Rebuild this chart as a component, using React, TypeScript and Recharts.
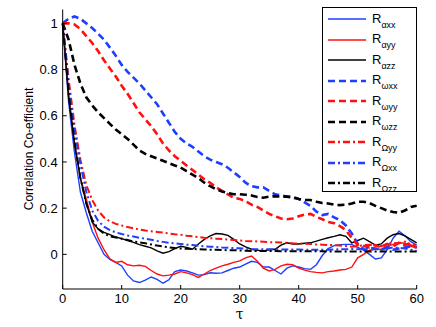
import React from "react";
import { LineChart, Line, XAxis, YAxis, Legend } from "recharts";

const tau = [
  0, 1, 2, 3, 4, 5, 6, 7, 8, 9, 10, 11, 12, 13, 14, 15, 16, 17, 18, 19, 20,
  21, 22, 23, 24, 25, 26, 27, 28, 29, 30, 31, 32, 33, 34, 35, 36, 37, 38, 39,
  40, 41, 42, 43, 44, 45, 46, 47, 48, 49, 50, 51, 52, 53, 54, 55, 56, 57, 58,
  59, 60,
];

// R_alpha (solid)
const alphaXX = [
  1, 0.66, 0.44, 0.27, 0.18, 0.1, 0.05, 0.0, -0.022, -0.035, -0.05, -0.09,
  -0.115, -0.122, -0.112, -0.098, -0.108, -0.125, -0.11, -0.075, -0.068,
  -0.072, -0.08, -0.09, -0.088, -0.08, -0.082, -0.08, -0.07, -0.06, -0.055,
  -0.042, -0.03, -0.035, -0.055, -0.055, -0.07, -0.085, -0.06, -0.05, -0.055,
  -0.062, -0.065, -0.045, -0.005, 0.025, 0.038, 0.042, 0.043, 0.043, 0.03,
  0.018, 0.0, -0.02, -0.015, 0.02, 0.07, 0.1, 0.08, 0.055, 0.04,
];
const alphaYY = [
  1, 0.7, 0.48, 0.33, 0.24, 0.14, 0.07, 0.02, -0.02, -0.035, -0.03, -0.045,
  -0.05, -0.047, -0.052, -0.07, -0.085, -0.093, -0.09, -0.085, -0.075, -0.08,
  -0.088, -0.1, -0.085, -0.07, -0.06, -0.05, -0.043, -0.035, -0.028, -0.015,
  -0.007, -0.03, -0.06, -0.072, -0.065, -0.05, -0.043, -0.045, -0.06, -0.068,
  -0.075, -0.078, -0.08, -0.075, -0.072, -0.068, -0.065, -0.055, -0.015, 0.0,
  0.018, 0.022, 0.022, 0.035, 0.043, 0.05, 0.048, 0.035, 0.028,
];
const alphaZZ = [
  1, 0.68, 0.48, 0.33, 0.22, 0.14, 0.11, 0.095, 0.085, 0.075, 0.068, 0.06,
  0.052, 0.042, 0.035, 0.028, 0.015, 0.005, 0.012, 0.025, 0.035, 0.03, 0.022,
  0.045, 0.065, 0.08, 0.09, 0.088, 0.082, 0.065, 0.045, 0.032, 0.022, 0.018,
  0.015, 0.02, 0.022, 0.04, 0.05, 0.045, 0.045, 0.048, 0.05, 0.057, 0.065,
  0.072, 0.078, 0.085, 0.078, 0.05, 0.06, 0.07, 0.055, 0.04, 0.045, 0.07,
  0.085, 0.09, 0.08, 0.065, 0.05,
];

// R_omega (dashed)
const omegaXX = [
  1.0, 1.02, 1.03, 1.02, 1.0, 0.98, 0.955, 0.93, 0.895, 0.86, 0.82, 0.79,
  0.765, 0.74, 0.71, 0.68, 0.65, 0.61, 0.57, 0.53, 0.5, 0.48, 0.465, 0.445,
  0.425, 0.41, 0.4, 0.39, 0.375, 0.355, 0.335, 0.31, 0.295, 0.29, 0.29, 0.275,
  0.26, 0.255, 0.25, 0.245, 0.24, 0.225, 0.21, 0.185, 0.17, 0.175, 0.16,
  0.148, 0.125, 0.09, 0.045, 0.022, 0.02, 0.025, 0.02, 0.03, 0.02, 0.025,
  0.03, 0.035, 0.03,
];
const omegaYY = [
  1.0, 1.0, 0.995, 0.975, 0.945, 0.915, 0.88, 0.84, 0.805, 0.77, 0.73, 0.695,
  0.655, 0.615, 0.585, 0.555, 0.52, 0.48, 0.45, 0.425, 0.405, 0.385, 0.365,
  0.345, 0.325, 0.31, 0.29, 0.275, 0.26, 0.245, 0.24, 0.23, 0.215, 0.205,
  0.19, 0.175, 0.165, 0.155, 0.152, 0.155, 0.165, 0.172, 0.175, 0.162, 0.152,
  0.14, 0.135, 0.122, 0.105, 0.07, 0.04, 0.036, 0.03, 0.04, 0.03, 0.045,
  0.035, 0.05, 0.04, 0.05, 0.03,
];
const omegaZZ = [
  1.0, 0.93, 0.82, 0.74, 0.68, 0.645, 0.615, 0.59, 0.565, 0.54, 0.52, 0.5,
  0.475, 0.45, 0.435, 0.425, 0.415, 0.405, 0.395, 0.385, 0.375, 0.36, 0.345,
  0.33, 0.31, 0.295, 0.282, 0.272, 0.265, 0.26, 0.26, 0.258, 0.255, 0.248,
  0.245, 0.25, 0.252, 0.25, 0.25, 0.248, 0.24, 0.235, 0.235, 0.228, 0.222,
  0.22, 0.215, 0.213, 0.215, 0.22, 0.228, 0.228, 0.222, 0.21, 0.2, 0.19,
  0.183, 0.18, 0.19, 0.205, 0.21,
];

// R_Omega (dash-dot)
const bigOmegaYY = [
  1.0, 0.76, 0.56, 0.41, 0.3, 0.235, 0.19, 0.16, 0.143, 0.132, 0.125, 0.118,
  0.113, 0.108, 0.103, 0.1, 0.097, 0.094, 0.09, 0.087, 0.085, 0.081, 0.078,
  0.075, 0.072, 0.07, 0.068, 0.066, 0.064, 0.062, 0.06, 0.058, 0.057, 0.056,
  0.055, 0.053, 0.052, 0.051, 0.05, 0.048, 0.047, 0.046, 0.045, 0.043, 0.042,
  0.04, 0.04, 0.038, 0.036, 0.033, 0.035, 0.04, 0.042, 0.038, 0.035, 0.045,
  0.05, 0.048, 0.055, 0.04, 0.03,
];
const bigOmegaXX = [
  1.0, 0.74, 0.54, 0.39, 0.27, 0.19, 0.145, 0.12, 0.105, 0.095, 0.088, 0.082,
  0.077, 0.072, 0.068, 0.063, 0.058, 0.054, 0.05, 0.048, 0.045, 0.042, 0.04,
  0.037, 0.035, 0.033, 0.032, 0.03, 0.029, 0.027, 0.026, 0.025, 0.023, 0.022,
  0.022, 0.022, 0.022, 0.021, 0.021, 0.021, 0.021, 0.02, 0.02, 0.02, 0.02,
  0.02, 0.021, 0.022, 0.022, 0.023, 0.022, 0.025, 0.03, 0.025, 0.02, 0.025,
  0.03, 0.028, 0.025, 0.02, 0.015,
];
const bigOmegaZZ = [
  1.0, 0.7, 0.49, 0.33, 0.22, 0.15, 0.11, 0.09, 0.078, 0.073, 0.068, 0.062,
  0.056, 0.052, 0.048, 0.043, 0.038, 0.034, 0.03, 0.027, 0.025, 0.024, 0.023,
  0.022, 0.021, 0.02, 0.02, 0.019, 0.018, 0.018, 0.017, 0.016, 0.015, 0.015,
  0.014, 0.014, 0.014, 0.013, 0.013, 0.013, 0.013, 0.013, 0.013, 0.013,
  0.013, 0.012, 0.012, 0.012, 0.012, 0.012, 0.012, 0.012, 0.012, 0.012,
  0.012, 0.012, 0.012, 0.012, 0.012, 0.012, 0.012,
];

const xTicks = [0, 10, 20, 30, 40, 50, 60];
const yTicks = [0, 0.2, 0.4, 0.6, 0.8, 1];

const BLUE = "#1f3fff";
const RED = "#ff1010";
const BLACK = "#000000";
const FONT = "'Liberation Sans', Arial, sans-serif";

const DASH = "7 4";
const DASHDOT = "7 3 2 3";

const SERIES = [
  { key: "axx", sub: "\u03b1xx", values: alphaXX, color: BLUE, dash: undefined, width: 1.4 },
  { key: "ayy", sub: "\u03b1yy", values: alphaYY, color: RED, dash: undefined, width: 1.4 },
  { key: "azz", sub: "\u03b1zz", values: alphaZZ, color: BLACK, dash: undefined, width: 1.4 },
  { key: "wxx", sub: "\u03c9xx", values: omegaXX, color: BLUE, dash: DASH, width: 2.6 },
  { key: "wyy", sub: "\u03c9yy", values: omegaYY, color: RED, dash: DASH, width: 2.6 },
  { key: "wzz", sub: "\u03c9zz", values: omegaZZ, color: BLACK, dash: DASH, width: 2.6 },
  { key: "Wyy", sub: "\u03a9yy", values: bigOmegaYY, color: RED, dash: DASHDOT, width: 2 },
  { key: "Wxx", sub: "\u03a9xx", values: bigOmegaXX, color: BLUE, dash: DASHDOT, width: 2 },
  { key: "Wzz", sub: "\u03a9zz", values: bigOmegaZZ, color: BLACK, dash: DASHDOT, width: 2 },
];

const rows = tau.map((t, i) => {
  const row: Record<string, number> = { tau: t };
  SERIES.forEach((s) => {
    row[s.key] = s.values[i];
  });
  return row;
});

const LegendBox = () => (
  <div
    style={{
      boxSizing: "border-box",
      width: 95,
      height: 185,
      border: "1px solid #000",
      background: "#fff",
      paddingTop: 1,
      fontFamily: FONT,
      color: "#000",
    }}
  >
    {SERIES.map((s) => (
      <div
        key={s.key}
        style={{ height: 20.5, display: "flex", alignItems: "center" }}
      >
        <svg width={38} height={6} style={{ marginLeft: 5, marginRight: 6 }}>
          <line
            x1={0}
            x2={38}
            y1={3}
            y2={3}
            stroke={s.color}
            strokeWidth={s.dash ? 2.4 : 1.6}
            strokeDasharray={s.dash}
          />
        </svg>
        <span style={{ fontSize: 13, lineHeight: "13px", marginTop: -2 }}>
          R
          <sub style={{ fontSize: 9, verticalAlign: "-5px", lineHeight: 0 }}>
            {s.sub}
          </sub>
        </span>
      </div>
    ))}
  </div>
);

const tickStyle = { fontSize: 13, fill: "#000", fontFamily: FONT };

export default function App() {
  return (
    <div style={{ position: "absolute", left: 0, top: 0, background: "#fff" }}>
      <LineChart
        width={436}
        height={327}
        data={rows}
        margin={{ top: 9.5, right: 19.3, bottom: 0, left: 22.7 }}
      >
        <XAxis
          dataKey="tau"
          type="number"
          domain={[0, 60]}
          ticks={xTicks}
          tick={tickStyle}
          tickSize={-4}
          tickMargin={9}
          height={38}
          stroke="#000"
          label={() => (
            <text
              x={239.7}
              y={319}
              textAnchor="middle"
              fontSize={14}
              fontFamily="'DejaVu Serif', serif"
              fill="#000"
            >
              τ
            </text>
          )}
        />
        <XAxis
          xAxisId="top"
          orientation="top"
          type="number"
          domain={[0, 60]}
          ticks={xTicks}
          tick={false}
          tickSize={-4}
          height={0}
          stroke="#000"
        />
        <YAxis
          type="number"
          domain={[-0.15, 1.06]}
          ticks={yTicks}
          tick={tickStyle}
          tickFormatter={(v: number) => String(v)}
          tickSize={-4}
          tickMargin={9}
          width={40}
          stroke="#000"
          allowDataOverflow
          label={() => (
            <text
              x={29}
              y={149}
              transform="rotate(-90 29 149)"
              textAnchor="middle"
              dominantBaseline="central"
              fontSize={12}
              fontFamily={FONT}
              fill="#000"
            >
              Correlation Co-efficient
            </text>
          )}
        />
        <YAxis
          yAxisId="right"
          orientation="right"
          type="number"
          domain={[-0.15, 1.06]}
          ticks={yTicks}
          tick={false}
          tickSize={-4}
          width={0}
          stroke="#000"
          allowDataOverflow
        />
        {SERIES.map((s) => (
          <Line
            key={s.key}
            dataKey={s.key}
            type="linear"
            stroke={s.color}
            strokeWidth={s.width}
            strokeDasharray={s.dash}
            dot={false}
            isAnimationActive={false}
          />
        ))}
        <Legend
          layout="horizontal"
          align="center"
          verticalAlign="middle"
          content={() => <LegendBox />}
          wrapperStyle={{ position: "absolute", left: 322, top: 7, width: 95, height: 185 }}
        />
      </LineChart>
    </div>
  );
}
